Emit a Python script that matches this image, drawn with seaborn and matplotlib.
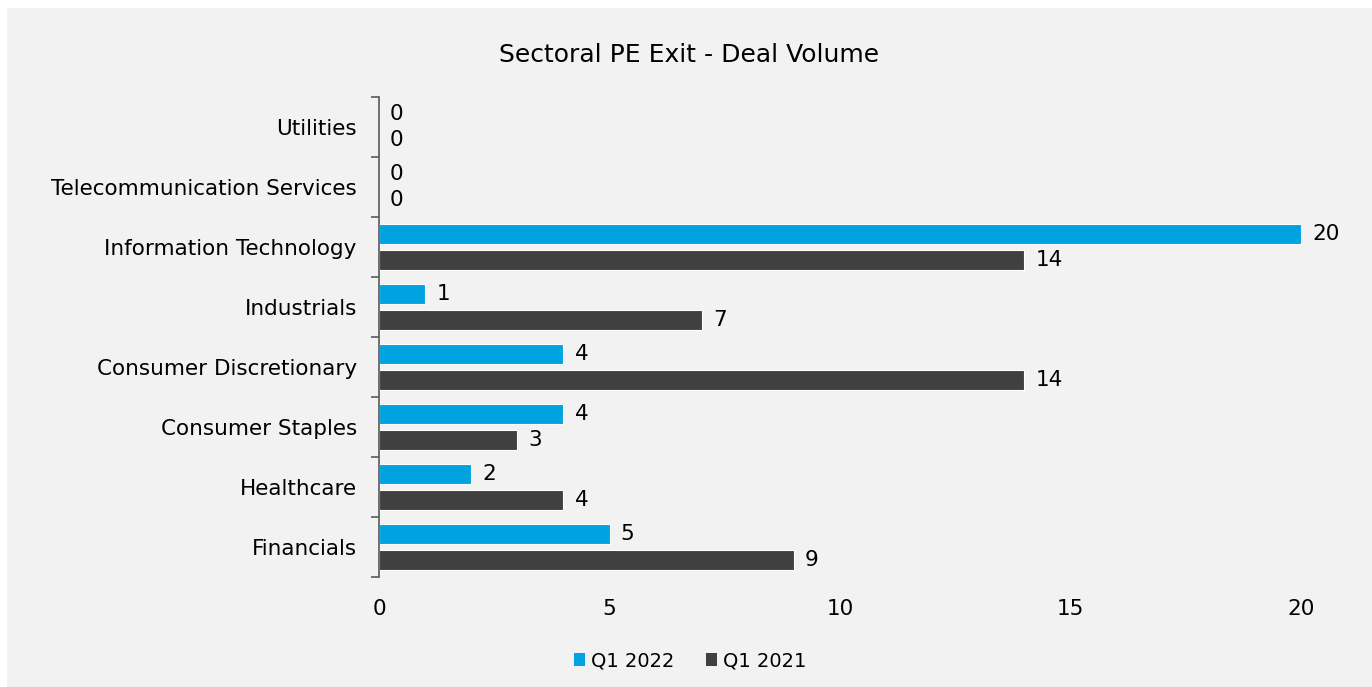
import matplotlib
matplotlib.use("Agg")
import matplotlib.pyplot as plt
import seaborn as sns
import pandas as pd
import numpy as np
from matplotlib.patches import Rectangle, Patch
from matplotlib.ticker import FixedLocator

sectors = ["Utilities", "Telecommunication Services", "Information Technology",
           "Industrials", "Consumer Discretionary", "Consumer Staples",
           "Healthcare", "Financials"]
q1_2022 = [0, 0, 20, 1, 4, 4, 2, 5]
q1_2021 = [0, 0, 14, 7, 14, 3, 4, 9]
series = ["Q1 2022", "Q1 2021"]
colors = ["#00a3e0", "#404040"]
title = "Sectoral PE Exit - Deal Volume"
xticks = [0, 5, 10, 15, 20]

df = pd.DataFrame({
    "Sector": sectors * 2,
    "Value": q1_2022 + q1_2021,
    "Series": [series[0]] * len(sectors) + [series[1]] * len(sectors),
})

sns.set_style("white")
plt.rcParams["font.family"] = ["DejaVu Sans"]
plt.rcParams["text.color"] = "black"
plt.rcParams["xtick.color"] = "black"
plt.rcParams["ytick.color"] = "black"

fig = plt.figure(figsize=(13.72, 6.87), dpi=100)
fig.patch.set_facecolor("white")
fig.patches.append(Rectangle((7 / 1372, 0), 1 - 7 / 1372, 1 - 8 / 687,
                             transform=fig.transFigure, facecolor="#f2f2f2",
                             edgecolor="none", zorder=-10))
ax = fig.add_axes([379 / 1372, 1 - 577 / 687, (1301 - 379) / 1372, (577 - 97) / 687])
ax.set_facecolor("none")

sns.barplot(data=df, y="Sector", x="Value", hue="Series", order=sectors,
            hue_order=series, palette=colors, saturation=1, orient="h",
            width=0.87, gap=0.23, edgecolor="white", linewidth=0.8, ax=ax,
            legend=False)

fs = 15.5
for cont in ax.containers:
    ax.bar_label(cont, labels=[f"{int(v)}" for v in cont.datavalues],
                 padding=8, fontsize=fs, color="black", clip_on=False)

ax.set_xlim(0, 20)
ax.set_ylim(len(sectors) - 0.5, -0.5)
ax.set_xticks(xticks)
ax.set_xticklabels([str(t) for t in xticks], fontsize=fs)
ax.tick_params(axis="x", length=0, pad=16, labelcolor="black")
ax.tick_params(axis="y", which="major", left=False, length=0, pad=16,
               labelsize=fs, labelcolor="black")
ax.yaxis.set_minor_locator(FixedLocator(np.arange(-0.5, len(sectors), 1.0)))
ax.tick_params(axis="y", which="minor", left=True, length=6, width=1.2,
               color="#595959")
ax.set_xlabel("")
ax.set_ylabel("")
for s in ["top", "right", "bottom"]:
    ax.spines[s].set_visible(False)
ax.spines["left"].set_color("#595959")
ax.spines["left"].set_linewidth(1.2)

fig.text(0.502, 1 - 55 / 687, title, ha="center", va="center", fontsize=18,
         color="black")

handles = [Patch(facecolor=c, edgecolor="none") for c in colors]
fig.legend(handles, series, loc="center", bbox_to_anchor=(0.503, 1 - 661 / 687),
           ncol=2, frameon=False, fontsize=14, handlelength=0.6, handleheight=0.6,
           handletextpad=0.3, columnspacing=1.6)

fig.savefig("out.png", dpi=100, facecolor=fig.get_facecolor())
